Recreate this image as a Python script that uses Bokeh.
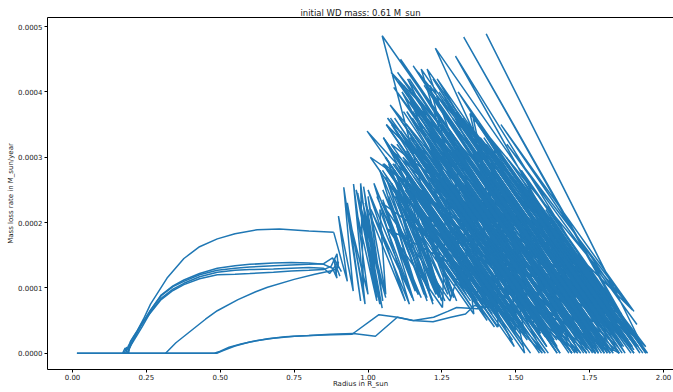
from bokeh.plotting import figure
from bokeh.models import LinearAxis, FixedTicker, PrintfTickFormatter, Range1d
from bokeh.embed import file_html
from bokeh.resources import INLINE

# ---------------- data (x: Radius in R_sun, y: mass loss rate in 1e-4 M_sun/yr) ----------------
base1_x = [0.015, 0.48, 0.50, 0.53, 0.57, 0.62, 0.68, 0.75, 0.85, 0.946, 1.037, 1.10, 1.154, 1.222, 1.27, 1.30, 1.37, 1.42]
base1_y = [0.0, 0.0, 0.03, 0.09, 0.14, 0.19, 0.23, 0.26, 0.28, 0.29, 0.59, 0.55, 0.50, 0.55, 0.64, 0.70, 0.68, 0.72]
base2_x = [0.015, 0.49, 0.51, 0.55, 0.60, 0.66, 0.72, 0.80, 0.873, 0.95, 1.025, 1.099, 1.15, 1.22, 1.28, 1.33, 1.36, 1.40]
base2_y = [0.0, 0.0, 0.04, 0.11, 0.17, 0.22, 0.25, 0.27, 0.29, 0.30, 0.26, 0.55, 0.50, 0.48, 0.55, 0.60, 0.73, 0.70]

upper_x = [0.19, 0.196, 0.21, 0.219, 0.24, 0.264, 0.32, 0.377, 0.43, 0.49, 0.55, 0.625, 0.70, 0.738, 0.80, 0.884]
upper_y = [0.0, 0.18, 0.28, 0.34, 0.52, 0.75, 1.15, 1.45, 1.63, 1.75, 1.83, 1.89, 1.90, 1.89, 1.87, 1.85]

late_x = [0.315, 0.35, 0.40, 0.45, 0.49, 0.56, 0.62, 0.66, 0.75, 0.82, 0.884, 0.90]
late_y = [0.0, 0.16, 0.34, 0.52, 0.65, 0.82, 0.94, 1.01, 1.13, 1.21, 1.27, 1.33]

b1_x = [0.17, 0.178, 0.182, 0.19, 0.205, 0.22, 0.24, 0.264, 0.30, 0.34, 0.377, 0.43, 0.49, 0.55, 0.60, 0.68, 0.74, 0.80, 0.85, 0.88, 0.895, 0.885, 0.91]
b1_y = [0.0, 0.08, 0.04, 0.10, 0.20, 0.33, 0.48, 0.66, 0.89, 1.03, 1.12, 1.22, 1.30, 1.34, 1.36, 1.38, 1.39, 1.38, 1.36, 1.30, 1.15, 1.45, 1.25]
b2_x = [0.175, 0.183, 0.19, 0.20, 0.215, 0.235, 0.264, 0.30, 0.34, 0.377, 0.43, 0.49, 0.55, 0.60, 0.68, 0.74, 0.80, 0.85, 0.87, 0.90, 0.89]
b2_y = [0.0, 0.09, 0.05, 0.14, 0.25, 0.40, 0.63, 0.84, 0.98, 1.07, 1.17, 1.24, 1.27, 1.28, 1.29, 1.30, 1.31, 1.30, 1.22, 1.40, 1.20]
b3_x = [0.18, 0.19, 0.20, 0.215, 0.235, 0.264, 0.30, 0.34, 0.377, 0.43, 0.49, 0.55, 0.60, 0.68, 0.74, 0.80, 0.85, 0.875, 0.895, 0.90]
b3_y = [0.0, 0.12, 0.20, 0.31, 0.46, 0.62, 0.82, 0.96, 1.05, 1.14, 1.20, 1.21, 1.22, 1.24, 1.26, 1.27, 1.28, 1.33, 1.52, 1.30]
b4_x = [0.185, 0.195, 0.21, 0.23, 0.264, 0.30, 0.34, 0.377, 0.43, 0.49, 0.55, 0.60, 0.68, 0.74, 0.80, 0.85, 0.88, 0.905]
b4_y = [0.0, 0.10, 0.24, 0.41, 0.66, 0.88, 1.02, 1.10, 1.20, 1.27, 1.30, 1.32, 1.34, 1.35, 1.36, 1.37, 1.46, 1.18]

chaos_x = [
    0.884, 0.93, 0.90, 0.95, 0.918, 0.975, 0.93, 0.99, 0.951, 1.00, 0.94, 0.985, 0.975, 1.02, 0.96, 1.03,
    0.965, 1.048, 0.99, 1.04, 0.98, 1.06, 0.96, 1.03, 0.97, 1.04, 0.985, 1.05, 1.00, 1.06,
    1.04, 1.155, 1.05, 1.17, 1.06, 1.16, 1.07, 1.20, 1.08, 1.19, 1.09, 1.22, 1.10, 1.21, 1.11, 1.25,
    1.12, 1.24, 1.13, 1.28,
    1.048, 1.74, 1.062, 1.57, 1.134, 1.78, 1.075, 1.60, 0.997, 1.43, 1.18, 1.77, 1.10, 1.70,
    1.066, 1.605, 1.131, 1.70, 1.228, 1.946, 1.16, 1.81, 1.165, 1.658, 1.087, 1.66, 1.142, 1.65,
    1.104, 1.72, 1.118, 1.503, 1.20, 1.83, 1.251, 1.82, 1.07, 1.50, 1.357, 1.849, 1.06, 1.44,
    1.428, 1.92, 1.296, 1.80, 1.32, 1.72, 1.15, 1.442, 1.14, 1.68, 1.111, 1.357, 1.234, 1.649,
    1.142, 1.358, 1.293, 1.77, 1.046, 1.277, 1.419, 1.85, 1.068, 1.252, 1.262, 1.60, 1.253, 1.53,
    1.356, 1.87, 1.324, 1.89, 1.515, 1.869, 1.432, 1.74, 1.394, 1.64, 1.192, 1.577, 1.252, 1.636,
    1.408, 1.732, 1.078, 1.416, 1.107, 1.584, 1.391, 1.683, 1.054, 1.362, 1.622, 1.915, 1.456, 1.774,
    1.285, 1.532, 1.288, 1.534, 1.115, 1.638, 1.26, 1.845, 1.413, 1.69, 1.205, 1.558, 1.599, 1.83,
    1.595, 1.78, 1.613, 1.828, 1.008, 1.332, 1.052, 1.375, 1.209, 1.732, 1.519, 1.858, 1.495, 1.71,
    1.405, 1.59, 1.295, 1.495, 1.137, 1.491, 1.492, 1.80, 1.319, 1.735, 1.11, 1.569, 1.153, 1.553,
    1.234, 1.695, 1.305, 1.766, 1.078, 1.432, 1.345, 1.895, 1.709, 1.94, 1.87, 1.40, 1.845, 1.45,
    1.90, 1.47, 1.91,
]
chaos_y = [
    1.85, 1.10, 2.10, 0.95, 2.54, 0.80, 2.30, 0.75, 2.59, 0.90, 2.00, 0.95, 2.60, 1.00, 2.20, 0.80,
    2.45, 0.69, 2.10, 1.10, 2.35, 0.85, 2.50, 0.85, 2.30, 0.75, 2.55, 0.80, 2.40, 0.90,
    2.20, 0.80, 2.35, 0.90, 2.10, 0.95, 2.40, 0.80, 2.25, 0.90, 2.50, 0.75, 2.30, 0.95, 2.60, 0.80,
    2.40, 0.95, 2.70, 0.85,
    4.86, 0.40, 3.50, 0.20, 4.20, 0.00, 3.80, 0.40, 3.40, 0.60, 4.35, 0.50, 4.30, 0.40,
    3.60, 0.10, 3.70, 0.00, 4.67, 0.00, 4.35, 0.10, 3.80, 0.60, 4.07, 0.30, 3.30, 0.00,
    4.17, 0.20, 3.00, 0.50, 4.35, 0.30, 3.70, 0.00, 3.15, 0.35, 3.40, 0.20, 2.84, 0.40,
    3.20, 0.00, 4.55, 0.50, 2.60, 0.00, 2.60, 0.70, 3.90, 0.40, 2.40, 0.80, 2.90, 0.20,
    2.00, 0.60, 3.10, 0.00, 2.30, 0.80, 2.80, 0.00, 1.90, 0.70, 2.20, 0.00, 1.80, 0.00,
    3.60, 0.50, 4.84, 0.30, 2.50, 0.20, 2.00, 0.00, 1.60, 0.00, 3.30, 0.80, 3.50, 1.00,
    3.00, 0.90, 3.20, 1.00, 3.40, 0.30, 2.40, 0.50, 2.90, 0.90, 2.00, 0.10, 2.30, 0.30,
    2.50, 0.90, 1.90, 0.30, 4.00, 0.60, 3.90, 0.10, 1.80, 0.00, 2.70, 0.40, 1.50, 0.00,
    1.20, 0.00, 1.80, 0.40, 3.00, 0.90, 3.30, 1.20, 4.10, 0.70, 2.80, 0.60, 1.40, 0.00,
    1.20, 0.00, 1.40, 0.10, 3.40, 1.10, 2.00, 0.00, 2.80, 0.10, 4.50, 1.50, 4.40, 1.80,
    4.20, 1.20, 4.00, 1.00, 4.30, 2.00, 3.67, 0.66, 1.50, 0.00, 0.65, 4.89, 0.88, 3.50,
    0.64, 3.20, 0.44,
]

burst_x = [
    1.05, 1.36, 1.06, 1.37, 1.07, 1.39, 1.08, 1.40, 1.09, 1.42, 1.10, 1.43, 1.12, 1.45, 1.13, 1.46,
    1.08, 1.58, 1.09, 1.60, 1.11, 1.61, 1.12, 1.63, 1.13, 1.64, 1.15, 1.66, 1.16, 1.68, 1.18, 1.69,
    1.12, 1.74, 1.14, 1.76, 1.15, 1.77, 1.17, 1.79, 1.19, 1.80, 1.20, 1.81, 1.22, 1.83, 1.24, 1.85,
    1.25, 1.62, 1.27, 1.64, 1.29, 1.67, 1.31, 1.69, 1.33, 1.70, 1.35, 1.74, 1.37, 1.75, 1.39, 1.77, 1.41, 1.80,
    1.30, 1.87, 1.32, 1.88, 1.34, 1.89, 1.36, 1.90, 1.38, 1.91, 1.40, 1.92, 1.42, 1.93, 1.45, 1.94,
    1.16, 1.55, 1.18, 1.57, 1.20, 1.60, 1.22, 1.61, 1.24, 1.64, 1.26, 1.66,
    1.20, 1.42, 1.21, 1.44, 1.23, 1.45, 1.25, 1.48, 1.27, 1.49, 1.29, 1.52, 1.31, 1.53,
    1.46, 1.76, 1.48, 1.77, 1.50, 1.80, 1.52, 1.80, 1.55, 1.85, 1.58, 1.86, 1.60, 1.87, 1.63, 1.90, 1.66, 1.90,
    1.45, 1.75, 1.47, 1.77, 1.49, 1.80, 1.51, 1.81, 1.53, 1.84, 1.55, 1.85,
]
burst_y = [
    2.90, 0.85, 3.00, 0.80, 2.80, 0.75, 3.10, 0.80, 2.90, 0.70, 3.00, 0.75, 2.80, 0.65, 3.10, 0.70,
    3.50, 0.30, 3.60, 0.25, 3.40, 0.35, 3.70, 0.20, 3.50, 0.30, 3.60, 0.25, 3.80, 0.30, 3.60, 0.20,
    4.10, 0.05, 4.20, 0.00, 4.00, 0.10, 4.30, 0.00, 4.10, 0.10, 3.90, 0.00, 4.20, 0.05, 4.00, 0.00,
    2.60, 0.20, 2.50, 0.10, 2.70, 0.20, 2.60, 0.00, 2.50, 0.15, 2.80, 0.10, 2.60, 0.00, 2.50, 0.10, 2.70, 0.05,
    3.70, 0.00, 3.60, 0.20, 3.50, 0.10, 3.40, 0.30, 3.30, 0.10, 3.20, 0.20, 3.10, 0.00, 3.00, 0.10,
    3.20, 0.70, 3.00, 0.90, 3.30, 0.80, 3.10, 1.00, 3.40, 0.90, 3.20, 1.10,
    2.00, 0.60, 2.20, 0.65, 1.90, 0.50, 2.10, 0.55, 1.80, 0.40, 2.00, 0.45, 1.70, 0.30,
    2.00, 0.05, 1.90, 0.00, 2.10, 0.10, 1.80, 0.00, 2.00, 0.00, 1.90, 0.10, 1.70, 0.00, 1.80, 0.05, 1.50, 0.00,
    2.60, 0.60, 2.50, 0.50, 2.70, 0.60, 2.40, 0.40, 2.60, 0.50, 2.30, 0.40,
]

mid_x = [
    0.99, 1.126, 1.00, 1.15, 1.01, 1.14, 1.02, 1.18, 1.03, 1.17, 1.04, 1.22, 1.05, 1.20,
    1.06, 1.23, 1.07, 1.26, 1.08, 1.24, 1.09, 1.27, 1.10, 1.25, 1.12, 1.29, 1.14, 1.30,
]
mid_y = [
    2.30, 0.80, 2.50, 0.85, 2.20, 0.75, 2.60, 0.85, 2.40, 0.90, 2.80, 0.80, 2.50, 0.85,
    2.70, 0.90, 2.90, 0.80, 2.60, 0.85, 2.80, 0.90, 2.50, 0.80, 2.70, 0.85, 2.60, 0.80,
]

core_x = [
    1.091, 1.352, 1.049, 1.403, 1.162, 1.438, 1.058, 1.489, 1.14, 1.525, 1.052, 1.514, 1.134, 1.58,
    1.062, 1.523, 1.143, 1.605, 1.225, 1.64, 1.106, 1.614, 1.188, 1.68, 1.269, 1.669, 1.151, 1.705,
    1.232, 1.74, 1.314, 1.714, 1.195, 1.78, 1.277, 1.785, 1.358, 1.82, 1.286, 1.809, 1.368, 1.86,
    1.449, 1.865, 1.392, 1.90, 1.52, 1.889, 1.602, 1.94,
    1.468, 1.868, 1.372, 1.895, 1.521, 1.89, 1.285, 1.824, 1.404, 1.85, 1.307, 1.753, 1.425, 1.81,
    1.236, 1.759, 1.293, 1.77, 1.35, 1.688, 1.192, 1.73, 1.248, 1.633, 1.305, 1.69, 1.147, 1.639,
    1.204, 1.65, 1.076, 1.568, 1.241, 1.61, 1.098, 1.498, 1.155, 1.539, 1.212, 1.55, 1.084, 1.453,
    1.125, 1.402, 1.182, 1.428, 1.07, 1.347,
]
core_y = [
    2.40, 0.70, 2.80, 0.50, 2.20, 0.40, 3.00, 0.20, 2.60, 0.10, 3.30, 0.30, 2.90, 0.00,
    3.50, 0.50, 3.10, 0.10, 2.70, 0.00, 3.60, 0.30, 3.20, 0.00, 2.80, 0.20, 3.70, 0.10,
    3.30, 0.00, 2.90, 0.30, 3.80, 0.00, 3.40, 0.10, 3.00, 0.00, 3.60, 0.20, 3.20, 0.00,
    2.80, 0.10, 3.30, 0.00, 2.60, 0.20, 2.20, 0.00,
    3.00, 0.40, 3.50, 0.10, 2.40, 0.00, 3.80, 0.30, 2.90, 0.00, 3.40, 0.50, 2.50, 0.00,
    3.60, 0.20, 3.10, 0.00, 2.60, 0.40, 3.50, 0.00, 3.00, 0.50, 2.50, 0.00, 3.40, 0.20,
    2.90, 0.00, 3.60, 0.40, 2.40, 0.00, 3.20, 0.60, 2.70, 0.20, 2.20, 0.00, 2.90, 0.50,
    2.50, 0.70, 2.00, 0.40, 2.60, 0.80,
]

x_ticks = [0.0, 0.25, 0.5, 0.75, 1.0, 1.25, 1.5, 1.75, 2.0]
y_ticks = [0.0, 0.0001, 0.0002, 0.0003, 0.0004, 0.0005]

tracks_x = [base1_x, base2_x, upper_x, late_x, b1_x, b2_x, b3_x, b4_x, chaos_x, burst_x, mid_x, core_x]
tracks_y = [base1_y, base2_y, upper_y, late_y, b1_y, b2_y, b3_y, b4_y, chaos_y, burst_y, mid_y, core_y]
xs = [list(t) for t in tracks_x]
ys = [[v * 1e-4 for v in t] for t in tracks_y]

FONT = "DejaVu Sans"

p = figure(width=673, height=392, output_backend="svg", toolbar_location=None,
           x_range=Range1d(-0.0846, 2.0338), y_range=Range1d(-0.0000250, 0.000514),
           min_border_left=47, min_border_right=0, min_border_top=17, min_border_bottom=23,
           title="initial WD mass: 0.61 M_sun")
p.title.text_font = FONT
p.title.text_font_size = "8.5px"
p.title.text_font_style = "normal"
p.title.align = "center"
p.title.standoff = -1
p.title.offset = 0
p.title.text_color = "#222222"

p.xgrid.visible = False
p.ygrid.visible = False
p.outline_line_color = None
p.background_fill_color = "white"
p.border_fill_color = "white"

for ax in (p.xaxis[0], p.yaxis[0]):
    ax.axis_line_color = "black"
    ax.axis_line_width = 1
    ax.major_tick_line_color = "black"
    ax.major_tick_out = 3
    ax.major_tick_in = 0
    ax.minor_tick_line_color = None
    ax.major_label_text_font = FONT
    ax.major_label_text_font_size = "7px"
    ax.major_label_text_color = "#222222"
    ax.axis_label_text_font = FONT
    ax.axis_label_text_font_size = "7px"
    ax.axis_label_text_font_style = "normal"
    ax.axis_label_text_color = "#222222"

p.xaxis[0].ticker = FixedTicker(ticks=x_ticks)
p.xaxis[0].formatter = PrintfTickFormatter(format="%.2f")
p.xaxis[0].axis_label = "Radius in R_sun"
p.xaxis[0].major_label_standoff = 1
p.xaxis[0].axis_label_standoff = -3
p.yaxis[0].ticker = FixedTicker(ticks=y_ticks)
p.yaxis[0].formatter = PrintfTickFormatter(format="%.4f")
p.yaxis[0].axis_label = "Mass loss rate in M_sun/year"
p.yaxis[0].major_label_standoff = 2
p.yaxis[0].axis_label_standoff = 0

top = LinearAxis(ticker=FixedTicker(ticks=[]), axis_line_color="black",
                 major_tick_line_color=None, minor_tick_line_color=None,
                 major_label_text_font_size="0px", major_label_standoff=0)
p.add_layout(top, "above")

p.multi_line(xs=xs, ys=ys, line_color="#1f77b4", line_width=1.5)

open("out.html", "w").write(file_html(p, INLINE))
